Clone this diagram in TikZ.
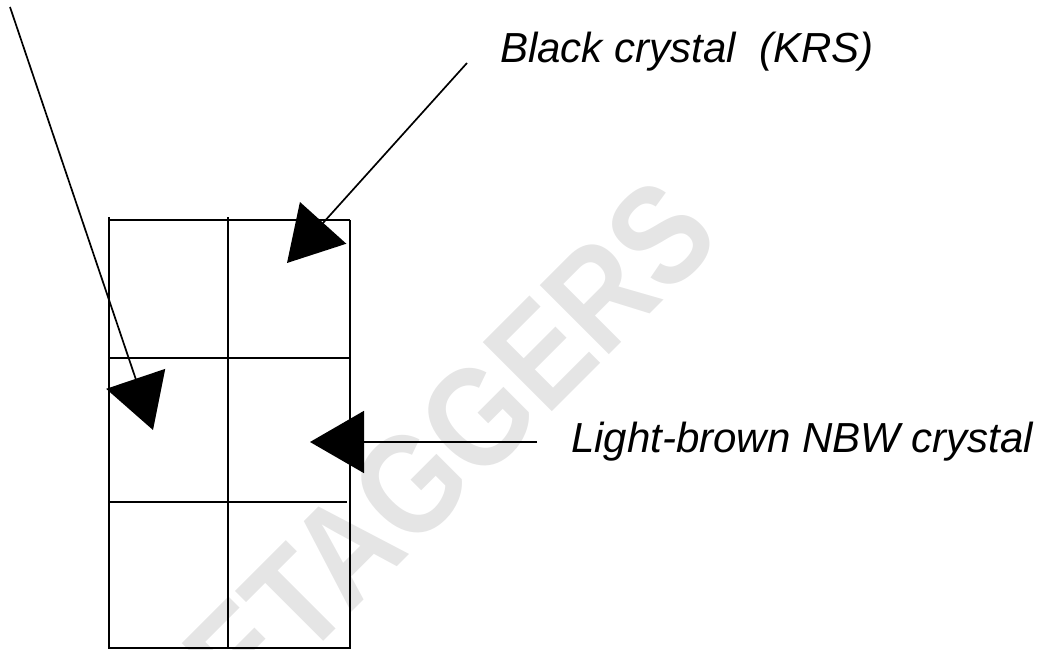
\documentclass[tikz,border=0pt]{standalone}
\usepackage{fontspec}
\setmainfont{Liberation Sans}
\usetikzlibrary{arrows.meta}
\begin{document}
\begin{tikzpicture}[x=1pt,y=-1pt,
  gridline/.style={line width=2.1pt},
  pointer/.style={line width=1.7pt,-{Triangle[length=54pt,width=62pt]}},
  lbl/.style={inner sep=0pt,font=\fontsize{42}{50}\selectfont\itshape},
  wm/.style={text=black!10,inner sep=0pt,font=\fontsize{142}{150}\selectfont\bfseries,rotate=45,xscale=0.86}]
\useasboundingbox (0,0) rectangle (1054,650);
% watermark
\node[wm] (wmark) at (450,445) {ETAGGERS};
% grid of the crystal holder
\draw[gridline] (109,217) -- (109,649);
\draw[gridline] (228,217) -- (228,647);
\draw[gridline] (350,220) -- (350,649);
\draw[gridline] (109,220) -- (350,220);
\draw[gridline] (109,358) -- (350,358);
\draw[gridline] (109,502) -- (347,502);
\draw[gridline] (109,648) -- (350,648);
% labels
\node[lbl,anchor=base west] (krs) at (500,63) {Black crystal \ (KRS)};
\node[lbl,anchor=base west] (nbw) at (571,452) {Light-brown NBW crystal};
% pointers
\coordinate (a1s) at (10,7);   \coordinate (a1t) at (153,430);
\coordinate (a2s) at (467,63); \coordinate (a2t) at (287,263);
\coordinate (a3s) at (537,442); \coordinate (a3t) at (310,442);
\draw[pointer] (a1s) -- (a1t);
\draw[pointer] (a2s) -- (a2t);
\draw[pointer] (a3s) -- (a3t);
\end{tikzpicture}
\end{document}
